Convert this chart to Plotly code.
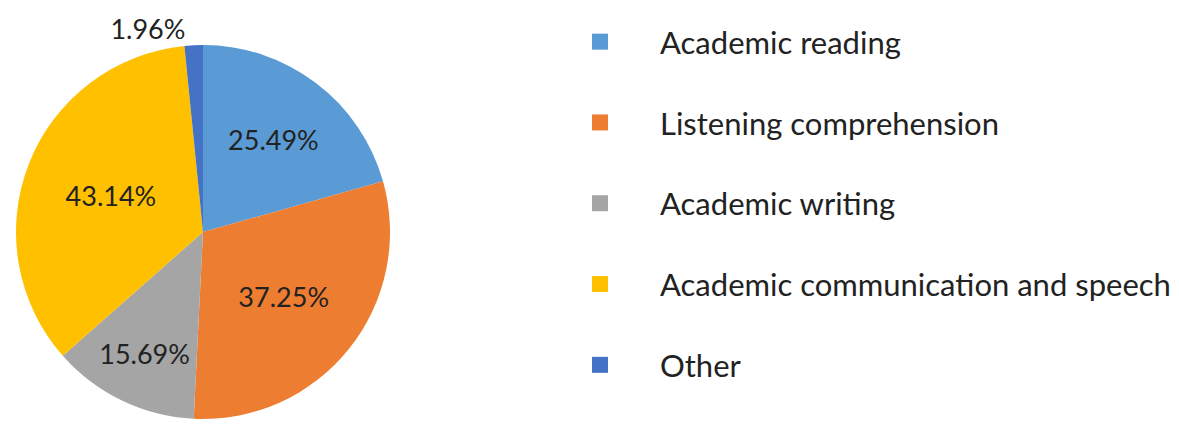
import plotly.graph_objects as go

categories = ["Academic reading", "Listening comprehension", "Academic writing",
              "Academic communication and speech", "Other"]
values = [25.49, 37.25, 15.69, 43.14, 1.96]
colors = ["#5B9BD5", "#ED7D31", "#A5A5A5", "#FFC000", "#4472C4"]
text_positions = ["inside", "inside", "inside", "inside", "outside"]

W, H = 1179, 425
OFF = 8  # page body margin shifts the figure by 8px
cx, cy, r = 203 - OFF, 232 - OFF, 187

fig = go.Figure()
fig.add_trace(go.Pie(
    labels=categories,
    values=values,
    text=[f"{v:.2f}%" for v in values],
    textinfo="text",
    textposition=text_positions,
    insidetextorientation="horizontal",
    sort=False,
    direction="clockwise",
    rotation=0,
    marker=dict(colors=colors, line=dict(width=0)),
    textfont=dict(family="Lato", size=27, color="#222222"),
    showlegend=False,
    domain=dict(x=[(cx - r) / W, (cx + r) / W], y=[(H - cy - r) / H, (H - cy + r) / H]),
))

for i, (name, col) in enumerate(zip(categories, colors)):
    fig.add_trace(go.Scatter(
        x=[None], y=[None], mode="markers", name=name,
        marker=dict(symbol="square", size=16, color=col),
        legendgroup=f"g{i}", showlegend=True,
    ))

fig.update_layout(
    width=W, height=H,
    margin=dict(l=0, r=0, t=0, b=0),
    paper_bgcolor="white", plot_bgcolor="white",
    xaxis=dict(visible=False, domain=[0.9, 1]), yaxis=dict(visible=False),
    legend=dict(
        x=(600 - OFF - 60) / W, xanchor="left", y=1 - 7 / H, yanchor="top",
        font=dict(family="Lato", size=31, color="#222222"),
        tracegroupgap=37.5, itemwidth=110,
        bgcolor="rgba(0,0,0,0)",
    ),
)

fig.write_html("out.html")
